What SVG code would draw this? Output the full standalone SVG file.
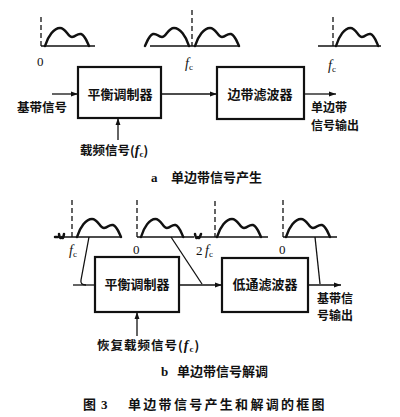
<svg xmlns="http://www.w3.org/2000/svg" xmlns:xlink="http://www.w3.org/1999/xlink" width="400" height="417" viewBox="0 0 400 417">
<style>
.bg{fill:#ffffff}
.box{fill:none;stroke:#111;stroke-width:2.2}
.ln{fill:none;stroke:#111;stroke-width:1.3}
.base{fill:none;stroke:#111;stroke-width:1.6}
.hump{fill:none;stroke:#111;stroke-width:2.5;stroke-linejoin:round;stroke-linecap:round}
.dash{fill:none;stroke:#111;stroke-width:1.3;stroke-dasharray:5,3}
.cjk{font-family:"Noto Sans CJK SC","Noto Sans CJK JP",sans-serif;font-weight:700;font-size:13px;fill:#111}
.lbl{font-family:"Noto Sans CJK SC","Noto Sans CJK JP",sans-serif;font-weight:700;font-size:12.5px;fill:#111}
.out{font-family:"Noto Sans CJK SC","Noto Sans CJK JP",sans-serif;font-weight:700;font-size:12px;fill:#111}
.ser{font-family:"Liberation Serif",serif;font-size:13px;fill:#111}
.it{font-family:"Liberation Serif",serif;font-style:italic;font-size:14px;fill:#111}
.sub{font-family:"Liberation Serif",serif;font-size:9px;fill:#111}
</style>
<defs>
<marker id="arr" viewBox="0 0 10 10" refX="10" refY="5" markerWidth="7" markerHeight="7" orient="auto" markerUnits="userSpaceOnUse">
<path d="M0,1.5 L10,5 L0,8.5 Z" fill="#111"/>
</marker>
<path id="hp" d="M0,0 C3,-10 9,-18 15,-18 C21,-18 23,-9 27,-9 C31,-9 32,-13 36,-12 C40,-11 42,-4 44,0"/>
</defs>
<rect class="bg" x="0" y="0" width="400" height="417"/>

<g id="spectra-a">
<line class="dash" x1="41" y1="17" x2="41" y2="46"/>
<line class="base" x1="41" y1="46" x2="95" y2="46"/>
<use xlink:href="#hp" href="#hp" class="hump" transform="translate(45,46)"/>
<line class="dash" x1="192" y1="10" x2="192" y2="46"/>
<line class="base" x1="150" y1="46" x2="240" y2="46"/>
<use xlink:href="#hp" href="#hp" class="hump" transform="translate(189,46) scale(-1,1)"/>
<use xlink:href="#hp" href="#hp" class="hump" transform="translate(195,46)"/>
<line class="dash" x1="333" y1="17" x2="333" y2="46"/>
<line class="base" x1="318" y1="46" x2="381" y2="46"/>
<use xlink:href="#hp" href="#hp" class="hump" transform="translate(336,46) scale(0.96,1)"/>
<text class="ser" x="37" y="66">0</text>
<text class="it" x="185" y="68">f<tspan class="sub" dy="2" font-style="normal">c</tspan></text>
<text class="it" x="328" y="70">f<tspan class="sub" dy="2" font-style="normal">c</tspan></text>
</g>

<g id="n-mod-a">
<rect class="box" x="78" y="67" width="83" height="51"/>
<text class="cjk" x="120" y="99" text-anchor="middle">平衡调制器</text>
</g>
<g id="n-filter-a">
<rect class="box" x="217" y="67" width="87" height="52"/>
<text class="cjk" x="260" y="99" text-anchor="middle">边带滤波器</text>
</g>
<g id="labels-a">
<text class="lbl" x="17" y="112">基带信号</text>
<text class="lbl" x="80" y="155">载频信号(<tspan class="it">f</tspan><tspan class="sub" dy="2">c</tspan><tspan dy="-2">)</tspan></text>
<text class="out" x="311" y="112">单边带</text>
<text class="out" x="311" y="130">信号输出</text>
<text class="ser" x="151" y="182" font-weight="bold">a</text>
<text class="cjk" x="171" y="182">单边带信号产生</text>
</g>

<g id="connectors-a">
<line class="ln" x1="52" y1="94" x2="78" y2="94" marker-end="url(#arr)"/>
<line class="ln" x1="118" y1="140" x2="118" y2="118" marker-end="url(#arr)"/>
<line class="ln" x1="161" y1="94" x2="217" y2="94" marker-end="url(#arr)"/>
<line class="ln" x1="304" y1="94" x2="336" y2="94" marker-end="url(#arr)"/>
</g>

<g id="spectra-b">
<line class="dash" x1="72" y1="200" x2="72" y2="237"/>
<line class="base" x1="62" y1="237" x2="122" y2="237"/>
<use xlink:href="#hp" href="#hp" class="hump" transform="translate(77,237)"/>
<line class="dash" x1="137" y1="200" x2="137" y2="237"/>
<line class="base" x1="137" y1="237" x2="194" y2="237"/>
<use xlink:href="#hp" href="#hp" class="hump" transform="translate(141,237) scale(0.96,1)"/>
<line class="dash" x1="215" y1="201" x2="215" y2="237"/>
<line class="base" x1="199" y1="237" x2="268" y2="237"/>
<use xlink:href="#hp" href="#hp" class="hump" transform="translate(217,237)"/>
<line class="dash" x1="283" y1="200" x2="283" y2="237"/>
<line class="base" x1="283" y1="237" x2="337" y2="237"/>
<use xlink:href="#hp" href="#hp" class="hump" transform="translate(286,237)"/>
<path class="hump" d="M55,237 L58,237 M59,234 Q60,240 62,237 Q63,240 64,234" stroke-width="1.8"/>
<path class="hump" d="M195,234 Q196,240 198,237 Q199,240 201,234" stroke-width="1.8"/>
<text class="it" x="69" y="255">f<tspan class="sub" dy="2" font-style="normal">c</tspan></text>
<text class="ser" x="133" y="254">0</text>
<text class="ser" x="196" y="255">2</text>
<text class="it" x="205" y="255">f<tspan class="sub" dy="2" font-style="normal">c</tspan></text>
<text class="ser" x="279" y="254">0</text>
</g>

<g id="n-mod-b">
<rect class="box" x="95" y="257" width="84" height="55"/>
<text class="cjk" x="137" y="289" text-anchor="middle">平衡调制器</text>
</g>
<g id="n-lpf-b">
<rect class="box" x="222" y="258" width="86" height="54"/>
<text class="cjk" x="265" y="289" text-anchor="middle">低通滤波器</text>
</g>

<g id="connectors-b">
<path class="ln" d="M89,237 L81,280 Q80,285 86,285"/>
<line class="ln" x1="73" y1="285" x2="95" y2="285"/>
<line class="ln" x1="171" y1="237" x2="202" y2="284"/>
<line class="ln" x1="179" y1="285" x2="222" y2="285" marker-end="url(#arr)"/>
<line class="ln" x1="315" y1="237" x2="320" y2="284"/>
<line class="ln" x1="308" y1="285" x2="341" y2="285" marker-end="url(#arr)"/>
<line class="ln" x1="137" y1="336" x2="137" y2="312" marker-end="url(#arr)"/>
</g>

<g id="labels-b">
<text class="out" x="317" y="303">基带信</text>
<text class="out" x="317" y="320">号输出</text>
<text class="lbl" x="97" y="350" letter-spacing="1">恢复载频信号(<tspan class="it">f</tspan><tspan class="sub" dy="2">c</tspan><tspan dy="-2">)</tspan></text>
<text class="ser" x="161" y="376" font-weight="bold">b</text>
<text class="cjk" x="177" y="376">单边带信号解调</text>
</g>

<g id="caption">
<text class="cjk" x="83" y="409">图</text>
<text class="ser" x="101" y="409" font-weight="bold">3</text>
<text class="cjk" x="128" y="409" letter-spacing="2.3">单边带信号产生和解调的框图</text>
</g>
</svg>
